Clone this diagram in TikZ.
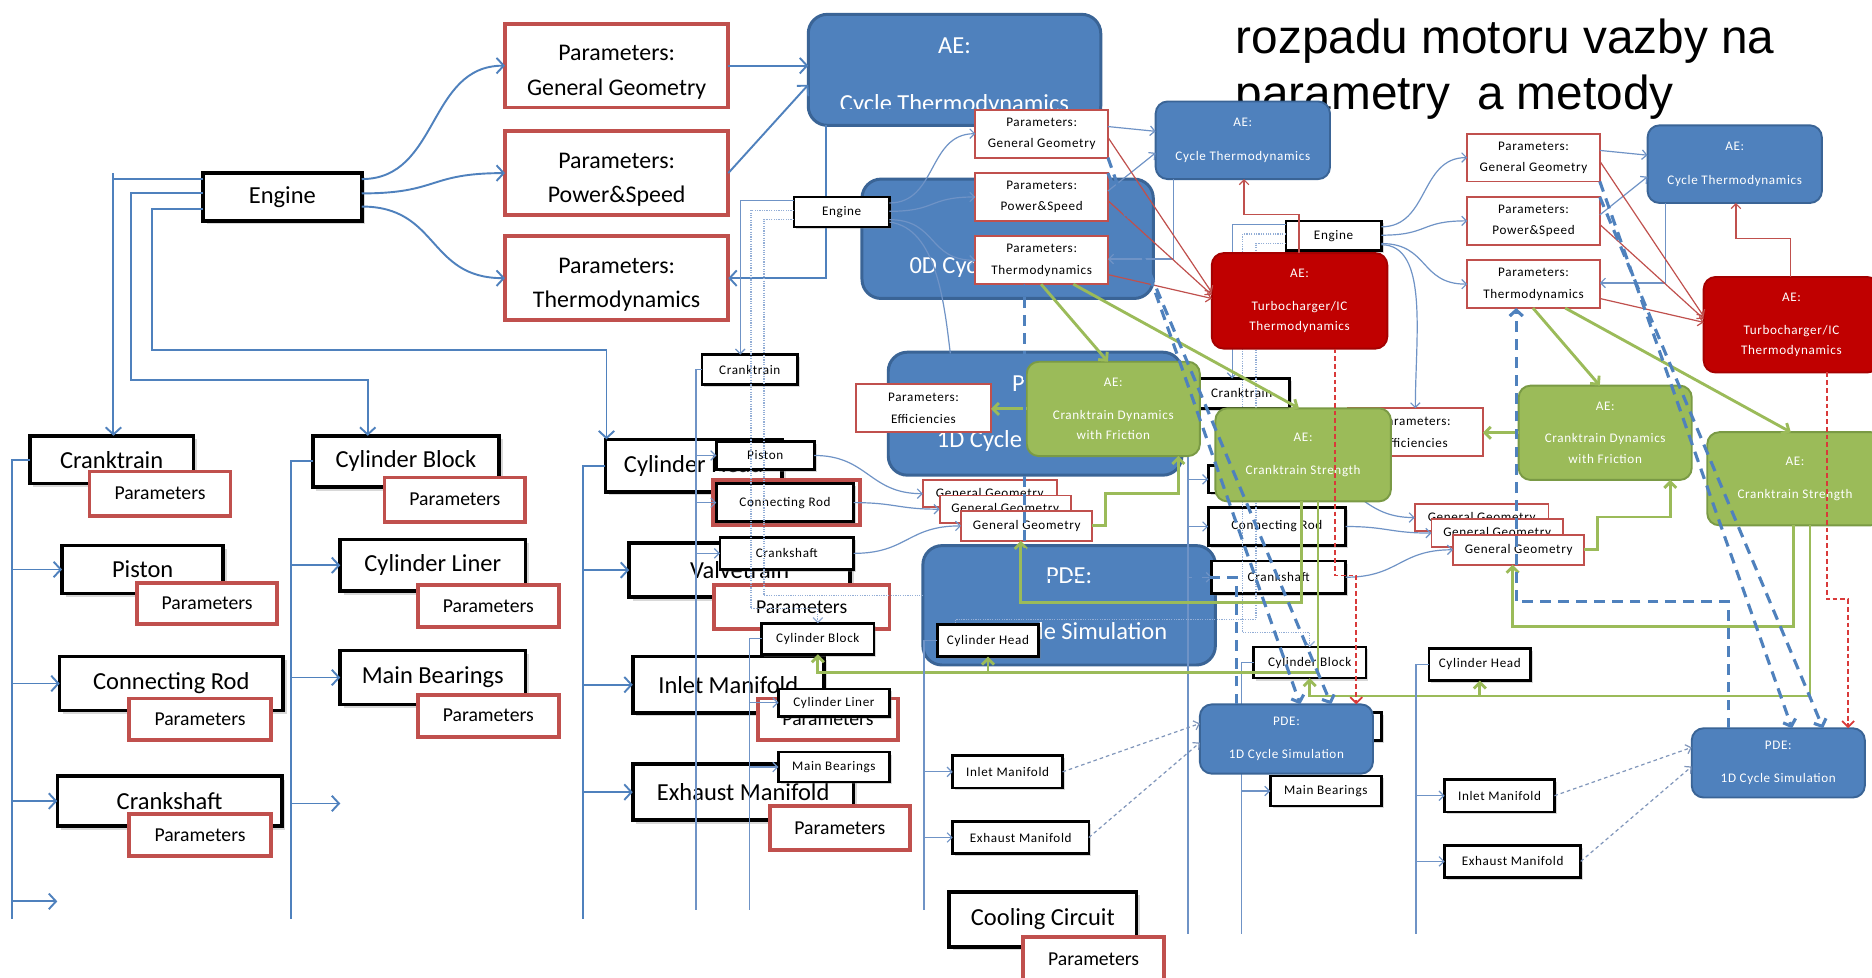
\documentclass[tikz,border=0pt]{standalone}
\usepackage{fontspec}
\setmainfont{Carlito}
\newfontfamily\minifont[LetterSpace=5]{Carlito}
\newfontfamily\titlefont{Liberation Sans}
\usetikzlibrary{arrows.meta,shadows}

\definecolor{linkblue}{HTML}{4F81BD}
\definecolor{thinblue}{HTML}{6F93C6}
\definecolor{dotblue}{HTML}{93AED6}
\definecolor{prmred}{HTML}{C0504D}
\definecolor{boxblue}{HTML}{4F81BD}
\definecolor{edgeblue}{HTML}{3A6496}
\definecolor{boxgreen}{HTML}{9BBB59}
\definecolor{edgegreen}{HTML}{7A9A45}
\definecolor{boxred}{HTML}{C00000}
\definecolor{edgered}{HTML}{A50000}
\definecolor{dashred}{HTML}{D93A3A}
\definecolor{dashgrey}{HTML}{7F95BA}

% a box given by its corners: style, name, x1, y1, x2, y2, text
\newcommand\mkbox[7]{\node[#1,minimum width={#5-#3},minimum height={#6-#4}] (#2) at ({(#3+#5)/2},{(#4+#6)/2}) {#7};}
% taller first line, to sit two-line labels a little lower in their boxes
\newcommand\lowfirst{\rule{0pt}{24pt}}

% the small engine decomposition diagram: name prefix, shift x, shift y
\newcommand\minidiagram[3]{%
\begin{scope}[shift={(#2,#3)}]
  \mkbox{mini}{#1en}{665}{165}{745}{190}{Engine}
  \mkbox{miniprm}{#1gg}{817}{92}{928}{132}{Parameters:\\General Geometry}
  \mkbox{miniprm}{#1ps}{817}{145}{928}{185}{Parameters:\\Power\&Speed}
  \mkbox{miniprm}{#1th}{817}{198}{928}{238}{Parameters:\\Thermodynamics}
  \mkbox{miniblue}{#1ae}{968}{85}{1114}{150}{AE:\\[12pt]Cycle Thermodynamics}
  \mkbox{minired}{#1tc}{1015}{212}{1162}{292}{AE:\\[11pt]Turbocharger/IC\\Thermodynamics}
  \mkbox{mini}{#1ct}{588}{297}{668}{322}{Cranktrain}
  \mkbox{miniprm}{#1ef}{717}{322}{830}{362}{Parameters:\\Efficiencies}
  \mkbox{minigreen}{#1dy}{860}{303}{1005}{382}{AE:\\[10pt]Cranktrain Dynamics\\with Friction}
  \mkbox{minigreen}{#1st}{1018}{342}{1165}{420}{AE:\\[11pt]Cranktrain Strength}
  \mkbox{mini}{#1pi}{600}{370}{682}{393}{Piston}
  \mkbox{mini}{#1cr}{600}{405}{715}{437}{Connecting Rod}
  \mkbox{mini}{#1cs}{603}{450}{715}{477}{Crankshaft}
  \mkbox{miniprm}{#1ga}{773}{402}{885}{425}{General Geometry}
  \mkbox{miniprm}{#1gb}{787}{415}{897}{438}{General Geometry}
  \mkbox{miniprm}{#1gc}{805}{428}{915}{453}{General Geometry}
  \mkbox{mini}{#1cb}{638}{522}{732}{548}{Cylinder Block}
  \mkbox{mini}{#1cl}{652}{577}{745}{600}{Cylinder Liner}
  \mkbox{mini}{#1mb}{652}{630}{745}{655}{Main Bearings}
  \mkbox{mini}{#1ch}{785}{523}{870}{550}{Cylinder Head}
  \mkbox{mini}{#1im}{798}{633}{890}{660}{Inlet Manifold}
  \mkbox{mini}{#1em}{798}{688}{912}{715}{Exhaust Manifold}
  \mkbox{miniblue}{#1pde}{1005}{590}{1150}{648}{PDE:\\[11pt]1D Cycle Simulation}
  % engine to its parameter sets
  \draw[thina] (#1en.east |- 0,170) .. controls +(40,0) and +(-40,0) .. (#1gg.west);
  \draw[thina] (#1en.east |- 0,177) .. controls +(40,0) and +(-40,0) .. (#1ps.west);
  \draw[thina] (#1en.east |- 0,184) .. controls +(40,0) and +(-40,0) .. (#1th.west);
  \draw[thina] (#1gg.east |- 0,106) -- (#1ae.west |- 0,110);
  \draw[thina] (#1ps.east |- 0,160) -- (#1ae.west |- 0,128);
  \draw[thina] (983,0 |- #1ae.south) |- (#1th.east |- 0,217);
  \draw[rl] (#1gg.east |- 0,115) -- (#1tc.west |- 0,245);
  \draw[rl] (#1ps.east |- 0,168) -- (#1tc.west |- 0,247);
  \draw[rl] (#1th.east |- 0,230) -- (#1tc.west |- 0,250);
  \draw[rl] (1088,0 |- #1tc.north) |- (1042,180) -- (1042,0 |- #1ae.south);
  % green couplings
  \draw[gl] (872,0 |- #1th.south) -- (928,0 |- #1dy.north);
  \draw[gl] (899,0 |- #1th.south) -- (1088,0 |- #1st.north);
  \draw[gl] (#1dy.west) -- (#1ef.east |- #1dy.west);
  \draw[gl] (#1gc.east) -- (926,0 |- #1gc.east) |- (987,413) -- (987,0 |- #1dy.south);
  \draw[gl] (1090,0 |- #1st.south) |- (855,505) -- (855,0 |- #1gc.south);
  \coordinate (#1junc) at (#1ch.south |- 0,563);
  \draw[gl] (1104,0 |- #1st.south) |- (#1cb.south |- 0,563) -- (#1cb.south);
  \draw[gl] (#1junc) -- (#1ch.south);
  % dashed data paths
  \draw[bd] (#1gg.south east) -- (1089,0 |- #1pde.north);
  \draw[bd] (#1ps.north east) -- (1115,0 |- #1pde.north);
  \draw[bd] (1036,0 |- #1pde.north) |- (858,484) -- (858,0 |- #1th.south);
  \draw[rd] (1118,0 |- #1tc.south) |- (1136,482) -- (1136,0 |- #1pde.north);
  \draw[gd] (#1im.east) -- (#1pde.west |- 0,606);
  \draw[gd] (#1em.east) -- (#1pde.west |- 0,622);
  % decomposition tree
  \draw[thina] (#1en.west |- 0,168) -| (620,0 |- #1ct.north);
  \draw[dota] (#1en.west |- 0,176) -| (629,510) -| (#1cb.north);
  \coordinate (#1chbend) at (640,499);
  \draw[dotl] (#1en.west |- 0,184) -| (#1chbend);
  \coordinate (#1busa) at (583,762);
  \coordinate (#1busb) at (628,762);
  \coordinate (#1busc) at (774,762);
  \draw[thin] (#1ct.west) -- (583,0 |- #1ct.west) -- (#1busa);
  \draw[thina] (583,0 |- #1pi.west) -- (#1pi.west);
  \draw[thina] (583,0 |- #1cr.west) -- (#1cr.west);
  \draw[thina] (583,0 |- #1cs.west) -- (#1cs.west);
  \draw[thin] (#1cb.west) -- (628,0 |- #1cb.west) -- (#1busb);
  \draw[thina] (628,0 |- #1cl.west) -- (#1cl.west);
  \draw[thina] (628,0 |- #1mb.west) -- (#1mb.west);
  \draw[thin] (#1ch.west) -- (774,0 |- #1ch.west) -- (#1busc);
  \draw[thina] (774,0 |- #1im.west) -- (#1im.west);
  \draw[thina] (774,0 |- #1em.west) -- (#1em.west);
  \draw[thina] (#1pi.east) .. controls +(45,0) and +(-45,0) .. (#1ga.west);
  \draw[thina] (#1cr.east) .. controls +(35,0) and +(-35,0) .. (#1gb.west);
  \draw[thina] (#1cs.east) .. controls +(45,0) and +(-45,0) .. (#1gc.west);
\end{scope}}

\begin{document}
\begin{tikzpicture}[x=1pt,y=-1pt,
  every node/.style={inner sep=0pt,outer sep=0pt},
  big/.style={draw=black,line width=3pt,fill=white,drop shadow={shadow xshift=3pt,shadow yshift=-3pt,opacity=0.3},font=\fontsize{20.5}{24}\selectfont},
  bigprm/.style={draw=prmred,line width=3.2pt,fill=white,font=\fontsize{16.5}{20}\selectfont},
  headprm/.style={draw=prmred,line width=3.2pt,fill=white,align=center,font=\fontsize{20}{29}\selectfont},
  bigblue/.style={draw=edgeblue,line width=2.5pt,fill=boxblue,rounded corners=16pt,text=white,align=center,font=\fontsize{20.5}{24}\selectfont},
  bigtext/.style={text=white,font=\fontsize{20.5}{24}\selectfont},
  mini/.style={draw=black,line width=2.2pt,fill=white,drop shadow={shadow xshift=2pt,shadow yshift=-2pt,opacity=0.3},font=\minifont\fontsize{11}{13}\selectfont},
  miniprm/.style={draw=prmred,line width=1.6pt,fill=white,align=center,font=\minifont\fontsize{11}{18}\selectfont},
  minirnd/.style={line width=1.6pt,rounded corners=10pt,text=white,align=center,font=\minifont\fontsize{11}{17}\selectfont},
  miniblue/.style={minirnd,draw=edgeblue,fill=boxblue},
  minigreen/.style={minirnd,draw=edgegreen,fill=boxgreen},
  minired/.style={minirnd,draw=edgered,fill=boxred},
  l1/.style={draw=linkblue,line width=1.6pt},
  l1a/.style={l1,-{Straight Barb[length=6pt,width=13pt]}},
  thin/.style={draw=thinblue,line width=1pt},
  thina/.style={thin,-{Straight Barb[length=4pt,width=8pt]}},
  dotl/.style={draw=dotblue,line width=1pt,densely dotted},
  dota/.style={dotl,-{Straight Barb[length=4pt,width=8pt]}},
  rl/.style={draw=prmred,line width=1pt,-{Straight Barb[length=4pt,width=8pt]}},
  gline/.style={draw=boxgreen,line width=2.4pt},
  gl/.style={gline,-{Straight Barb[length=5pt,width=10pt]}},
  bd/.style={draw=linkblue,line width=2.6pt,dash pattern=on 9pt off 6pt,-{Straight Barb[length=5pt,width=11pt]}},
  rd/.style={draw=dashred,line width=1.5pt,dash pattern=on 4pt off 2.5pt,-{Straight Barb[length=5pt,width=10pt]}},
  gd/.style={draw=dashgrey,line width=1pt,dash pattern=on 3pt off 2.5pt,-{Straight Barb[length=4pt,width=8pt]}}]

\useasboundingbox (0,0) rectangle (1568,819);
\clip (0,0) rectangle (1568,819);
\fill[white] (0,0) rectangle (1568,819);

% ---------- large decomposition ----------
\mkbox{big}{Aen}{170}{145}{303}{185}{Engine}
\mkbox{headprm}{Agg}{423}{20}{610}{90}{\lowfirst Parameters:\\General Geometry}
\mkbox{headprm}{Aps}{423}{110}{610}{180}{\lowfirst Parameters:\\Power\&Speed}
\mkbox{headprm}{Ath}{423}{198}{610}{268}{\lowfirst Parameters:\\Thermodynamics}

\mkbox{bigblue}{Aae}{677}{12}{922}{105}{}
\node[bigtext,anchor=base] (Aae1) at (799.5,45) {AE:};
\begin{scope}
  \clip (677,12) rectangle (922,91);
  \node[bigtext,anchor=base] (Aae2) at (799.5,93) {Cycle Thermodynamics};
\end{scope}
\mkbox{bigblue}{A0d}{722}{150}{966}{250}{AE:\\[24pt]0D Cycle Simulation}
\mkbox{bigblue}{A1d}{744}{295}{990}{398}{PDE:\\[23pt]1D Cycle Simulation}
\mkbox{bigblue}{A3d}{773}{457}{1018}{557}{PDE:\\[23pt]3D Cycle Simulation}

\mkbox{big}{Act}{25}{365}{162}{405}{Cranktrain}
\mkbox{bigprm}{Actp}{75}{395}{193}{432}{Parameters}
\mkbox{big}{Api}{52}{457}{187}{497}{Piston}
\mkbox{bigprm}{Apip}{115}{488}{232}{523}{Parameters}
\mkbox{big}{Acr}{50}{550}{237}{595}{Connecting Rod}
\mkbox{bigprm}{Acrp}{108}{585}{227}{620}{Parameters}
\mkbox{big}{Acs}{48}{650}{236}{692}{Crankshaft}
\mkbox{bigprm}{Acsp}{108}{682}{227}{717}{Parameters}

\mkbox{big}{Acb}{262}{365}{418}{408}{Cylinder Block}
\mkbox{bigprm}{Acbp}{322}{400}{440}{437}{Parameters}
\mkbox{big}{Acl}{285}{452}{440}{495}{Cylinder Liner}
\mkbox{bigprm}{Aclp}{350}{490}{468}{525}{Parameters}
\mkbox{big}{Amb}{285}{545}{440}{590}{Main Bearings}
\mkbox{bigprm}{Ambp}{350}{582}{468}{617}{Parameters}

\mkbox{big}{Ach}{507}{368}{655}{412}{Cylinder Head}
\mkbox{bigprm}{Achp}{597}{402}{720}{440}{Parameters}
\mkbox{big}{Avt}{527}{455}{712}{500}{Valvetrain}
\mkbox{bigprm}{Avtp}{598}{490}{745}{527}{Parameters}
\mkbox{big}{Aim}{530}{550}{690}{597}{Inlet Manifold}
\mkbox{bigprm}{Aimp}{635}{585}{752}{620}{Parameters}
\mkbox{big}{Aem}{530}{640}{715}{687}{Exhaust Manifold}
\mkbox{bigprm}{Aemp}{645}{675}{762}{712}{Parameters}

\mkbox{big}{Acc}{795}{747}{952}{793}{Cooling Circuit}
\mkbox{bigprm}{Accp}{857}{785}{975}{822}{Parameters}

\draw[l1a] (Aen.east |- 0,150) .. controls +(65,0) and +(-65,0) .. (Agg.west);
\draw[l1a] (Aen.east |- 0,162) .. controls +(65,0) and +(-65,0) .. (Aps.west);
\draw[l1a] (Aen.east |- 0,173) .. controls +(65,0) and +(-65,0) .. (Ath.west);
\draw[l1a] (Agg.east) -- (Aae.west |- Agg.east);
\draw[l1a] (Aps.east) -- (Aae.west |- 0,71);
\draw[l1a] (692,0 |- Aae.south) |- (Ath.east);

\coordinate (Atop) at (95,145);
\draw[l1] (Aen.west |- 0,150) -- (95,150);
\draw[l1a] (Atop) -- (95,0 |- Act.north);
\draw[l1a] (Aen.west |- 0,162) -| (110,318) -| (308,0 |- Acb.north);
\draw[l1a] (Aen.west |- 0,175) -| (127,293) -| (508,0 |- Ach.north);

\coordinate (Abusa) at (10,770);
\coordinate (Abusb) at (244,770);
\coordinate (Abusc) at (488,770);
\coordinate (Afreea) at (48,755);
\coordinate (Afreeb) at (285,673);
\draw[l1] (Act.west) -- (10,0 |- Act.west) -- (Abusa);
\draw[l1a] (10,0 |- Api.west) -- (Api.west);
\draw[l1a] (10,0 |- Acr.west) -- (Acr.west);
\draw[l1a] (10,0 |- Acs.west) -- (Acs.west);
\draw[l1a] (10,0 |- Afreea) -- (Afreea);
\draw[l1] (Acb.west) -- (244,0 |- Acb.west) -- (Abusb);
\draw[l1a] (244,0 |- Acl.west) -- (Acl.west);
\draw[l1a] (244,0 |- Amb.west) -- (Amb.west);
\draw[l1a] (244,0 |- Afreeb) -- (Afreeb);
\draw[l1] (Ach.west) -- (488,0 |- Ach.west) -- (Abusc);
\draw[l1a] (488,0 |- Avt.west) -- (Avt.west);
\draw[l1a] (488,0 |- Aim.west) -- (Aim.west);
\draw[l1a] (488,0 |- Aem.west) -- (Aem.west);

% ---------- heading ----------
\node[anchor=base west,font=\titlefont\fontsize{40}{47}\selectfont] (title1) at (1035,45) {rozpadu motoru vazby na};
\node[anchor=base west,font=\titlefont\fontsize{40}{47}\selectfont] (title2) at (1035,92) {parametry\ \ a metody};

% ---------- right copy of the small diagram ----------
\minidiagram{C}{412}{20}
\draw[dota] (Cchbend) -| (800,0 |- Cch.north);
\draw[thina] (Cen.east |- 0,205) .. controls +(40,0) and +(0,-60) .. (Cef.north);

% ---------- middle copy of the small diagram ----------
\minidiagram{B}{0}{0}
\coordinate (Bchcut) at (773,499);
\draw[dotl] (Bchbend) -- (Bchcut);
\coordinate (Bcut) at (796,296);
\draw[thin] (Ben.east |- 0,186) .. controls +(40,5) and +(-5,-40) .. (Bcut);
\end{tikzpicture}
\end{document}
